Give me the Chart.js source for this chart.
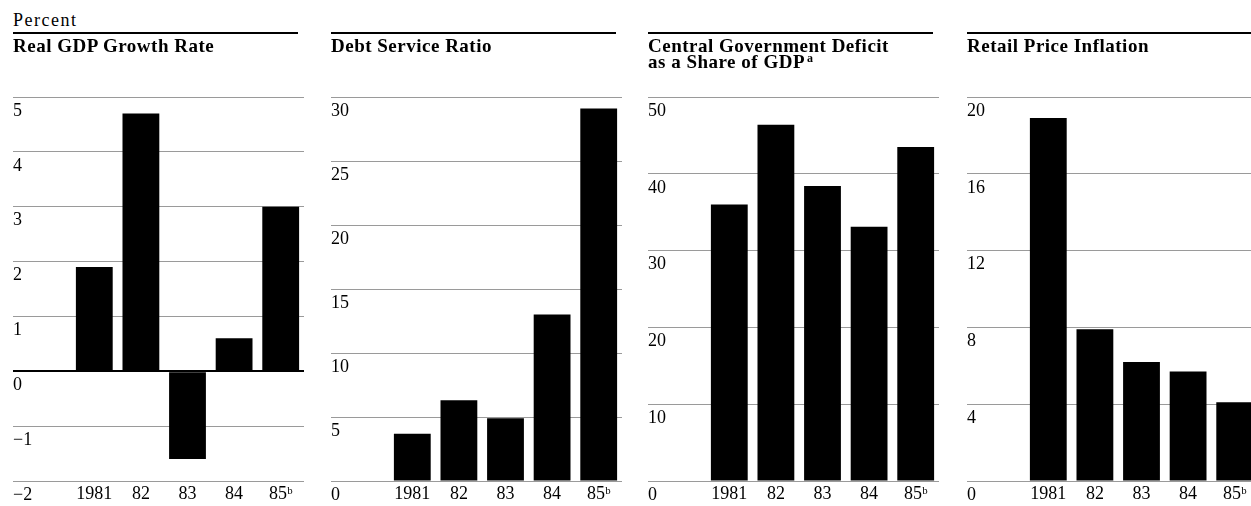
<!DOCTYPE html>
<html>
<head>
<meta charset="utf-8">
<script src="https://cdn.jsdelivr.net/npm/chart.js@4.4.1/dist/chart.umd.min.js"></script>
<style>
  body { margin: 0; width: 1251px; height: 506px; overflow: hidden; background: #fff; position: relative; font-family: "Liberation Serif", serif; color: #000; }
  .panel { position: absolute; top: 0; width: 291px; height: 506px; }
  .panel canvas { position: absolute; left: 0; top: 0; }
  .rule { position: absolute; top: 32px; left: 0; width: 285px; height: 2px; background: #000; }
  .title { position: absolute; top: 38px; left: 0; font-weight: bold; font-size: 19px; letter-spacing: 0.5px; line-height: 16px; white-space: nowrap; }
  .title sup { font-size: 12px; vertical-align: 6px; line-height: 0; margin-left: 2px; }
  .unit { position: absolute; top: 11px; left: 13px; font-size: 18px; line-height: 18px; letter-spacing: 1.5px; }
</style>
</head>
<body>
<div class="unit">Percent</div>

<div class="panel" style="left:13px">
  <canvas id="c1" width="291" height="506"></canvas>
  <div class="rule"></div>
  <div class="title">Real GDP Growth Rate</div>
</div>
<div class="panel" style="left:331px">
  <canvas id="c2" width="291" height="506"></canvas>
  <div class="rule"></div>
  <div class="title">Debt Service Ratio</div>
</div>
<div class="panel" style="left:648px">
  <canvas id="c3" width="291" height="506"></canvas>
  <div class="rule"></div>
  <div class="title">Central Government Deficit<br>as a Share of GDP<sup>a</sup></div>
</div>
<div class="panel" style="left:967px">
  <canvas id="c4" width="291" height="506"></canvas>
  <div class="rule" style="width:284px"></div>
  <div class="title">Retail Price Inflation</div>
</div>

<script>
// categories
const years = ['1981', '82', '83', '84', '85\u1D47'];

// series values (percent)
const gdpGrowth = [1.9, 4.7, -1.6, 0.6, 3.0];
const debtService = [3.7, 6.3, 4.9, 13.0, 29.1];
const govDeficit = [36.0, 46.4, 38.4, 33.1, 43.5];
const inflation = [18.9, 7.9, 6.2, 5.7, 4.1];

// y tick labels, bottom to top
const gdpTicks = ['\u22122', '\u22121', '0', '1', '2', '3', '4', '5'];
const debtTicks = ['0', '5', '10', '15', '20', '25', '30'];
const deficitTicks = ['0', '10', '20', '30', '40', '50'];
const inflationTicks = ['0', '4', '8', '12', '16', '20'];

const labelFont = { family: 'Liberation Serif', size: 18 };

function makeChart(id, values, min, max, step, tickLabels, blackZero) {
  const lineColor = (ctx) => (blackZero && ctx.tick && ctx.tick.value === 0) ? '#000' : '#9a9a9a';
  const lineWidth = (ctx) => (blackZero && ctx.tick && ctx.tick.value === 0) ? 2 : 1;

  return new Chart(document.getElementById(id), {
    type: 'bar',
    data: {
      labels: years,
      datasets: [{
        data: values,
        backgroundColor: '#000',
        borderWidth: 0,
        barPercentage: 0.79,
        categoryPercentage: 1
      }]
    },
    options: {
      responsive: false,
      animation: false,
      layout: { padding: { top: 97, left: 0, right: 0, bottom: 0 } },
      plugins: { legend: { display: false }, tooltip: { enabled: false } },
      scales: {
        x: {
          grid: { display: false, drawTicks: false, tickLength: 0 },
          border: { display: false },
          ticks: { color: '#000', font: labelFont, padding: 2, maxRotation: 0, autoSkip: false },
          afterFit(scale) { scale.height = 25; }
        },
        y: {
          min: min,
          max: max,
          border: { display: false },
          grid: { color: lineColor, lineWidth: lineWidth, tickColor: lineColor, tickWidth: lineWidth, tickLength: 58 },
          ticks: {
            stepSize: step,
            color: '#000',
            font: labelFont,
            crossAlign: 'far',
            labelOffset: 14,
            padding: 0,
            callback: (v, i) => tickLabels[i]
          },
          afterFit(scale) { scale.width = 58; }
        }
      }
    }
  });
}

makeChart('c1', gdpGrowth, -2, 5, 1, gdpTicks, true);
makeChart('c2', debtService, 0, 30, 5, debtTicks, false);
makeChart('c3', govDeficit, 0, 50, 10, deficitTicks, false);
makeChart('c4', inflation, 0, 20, 4, inflationTicks, false);
</script>
</body>
</html>
